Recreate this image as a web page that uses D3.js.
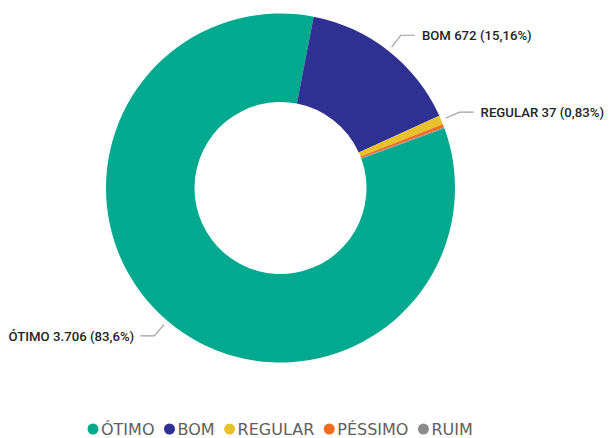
<!DOCTYPE html>
<html>
<head>
<meta charset="utf-8">
<script src="https://cdn.jsdelivr.net/npm/d3@7/dist/d3.min.js"></script>
<style>
  html, body { margin: 0; padding: 0; background: #fff; }
  svg { display: block; }
</style>
</head>
<body>
<svg id="chart" width="610" height="438"></svg>
<script>
// Avaliações por categoria
const categories = ["ÓTIMO", "BOM", "REGULAR", "PÉSSIMO", "RUIM"];
const counts = [3706, 672, 37, 13, 5];
const colors = ["#01A98E", "#2E3192", "#E7C22F", "#F26B21", "#8C8C8C"];
// Rótulos externos exibidos (valor e percentual, formato pt-BR)
const labelText = ["ÓTIMO 3.706 (83,6%)", "BOM 672 (15,16%)", "REGULAR 37 (0,83%)", null, null];

const width = 610, height = 438;
const cx = 280.5, cy = 188;
const outerR = 174.5, innerR = 86;
const startDeg = 70;

const svg = d3.select("#chart");
const data = categories.map((c, i) => ({ cat: c, value: counts[i], color: colors[i], label: labelText[i] }));

const pie = d3.pie()
  .value(d => d.value)
  .sort(null)
  .startAngle(startDeg * Math.PI / 180)
  .endAngle((startDeg + 360) * Math.PI / 180);

const arc = d3.arc().innerRadius(innerR).outerRadius(outerR);

const g = svg.append("g").attr("transform", `translate(${cx},${cy})`);
const arcs = pie(data);

g.selectAll("path.slice")
  .data(arcs)
  .enter().append("path")
  .attr("class", "slice")
  .attr("d", arc)
  .attr("fill", d => d.data.color)
  .attr("stroke", "none");

// Linhas de chamada e rótulos
const lineStartR = outerR + 5;
const elbowR = outerR + 20;
const hLen = 14;
const labelled = arcs.filter(d => d.data.label);

labelled.forEach(d => {
  const mid = (d.startAngle + d.endAngle) / 2;
  const sx = Math.sin(mid), sy = -Math.cos(mid);
  const p0 = [lineStartR * sx, lineStartR * sy];
  const p1 = [elbowR * sx, elbowR * sy];
  const right = sx >= 0;
  const p2 = [p1[0] + (right ? hLen : -hLen), p1[1]];
  g.append("polyline")
    .attr("points", [p0, p1, p2].map(p => p.join(",")).join(" "))
    .attr("fill", "none")
    .attr("stroke", "#9E9E9E")
    .attr("stroke-width", 1.2);
  g.append("text")
    .attr("x", p2[0] + (right ? 7 : -6))
    .attr("y", p2[1])
    .attr("dy", "0.36em")
    .attr("text-anchor", right ? "start" : "end")
    .attr("font-family", "Roboto, 'Liberation Sans', sans-serif")
    .attr("font-size", 13.2)
    .attr("font-weight", 500)
    .attr("fill", "#252423")
    .text(d.data.label);
});

// Legenda
const legend = svg.append("g").attr("class", "legend");
let x = 93;
const ly = 429;
data.forEach(d => {
  legend.append("circle")
    .attr("cx", x).attr("cy", ly).attr("r", 5.5)
    .attr("fill", d.color);
  const t = legend.append("text")
    .attr("x", x + 8)
    .attr("y", ly)
    .attr("dy", "0.36em")
    .attr("font-family", "'DejaVu Sans', Verdana, sans-serif")
    .attr("font-size", 16)
    .attr("fill", "#605E5C")
    .text(d.cat);
  const w = t.node().getComputedTextLength();
  x = x + 8 + w + 15;
});
</script>
</body>
</html>
